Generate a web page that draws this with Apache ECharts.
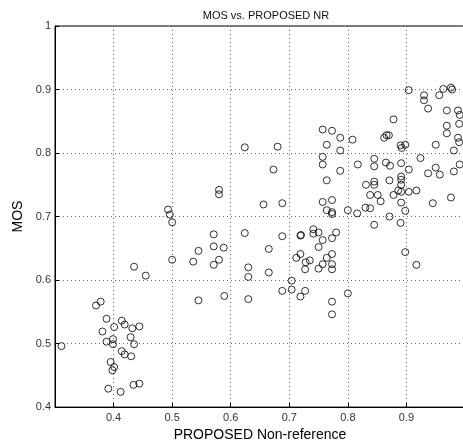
<!DOCTYPE html>
<html>
<head>
<meta charset="utf-8">
<script src="https://cdn.jsdelivr.net/npm/echarts@6/dist/echarts.min.js"></script>
<style>
  html, body { margin: 0; padding: 0; background: #fff; overflow: hidden; }
  /* the original figure is cut off at the right edge, just past x = 0.99 */
  #chart { width: 468px; height: 447px; }
</style>
</head>
<body>
<div id="chart"></div>
<script>
// PROPOSED Non-reference score (x) vs MOS (y), one entry per image
const proposedNR = [
  0.435, 0.455, 0.545, 0.378, 0.370, 0.388, 0.414, 0.419, 0.401, 0.432,
  0.444, 0.381, 0.429, 0.399, 0.388, 0.399, 0.435, 0.311, 0.414, 0.419,
  0.430, 0.395, 0.401, 0.398, 0.391, 0.412, 0.434, 0.444,
  0.624, 0.580, 0.580, 0.493, 0.496, 0.500, 0.571, 0.624, 0.571, 0.588,
  0.545, 0.500, 0.536, 0.580, 0.571, 0.630, 0.630, 0.589, 0.630, 0.680,
  0.673, 0.656, 0.688, 0.688, 0.665, 0.665, 0.704, 0.704, 0.688,
  0.719, 0.720, 0.741, 0.741, 0.750, 0.757, 0.780, 0.773, 0.750, 0.773,
  0.764, 0.719, 0.712, 0.735, 0.728, 0.727, 0.750, 0.757, 0.773, 0.773,
  0.719, 0.727, 0.773, 0.773, 0.800,
  0.757, 0.773, 0.787, 0.764, 0.787, 0.757, 0.757, 0.787, 0.764, 0.757,
  0.773, 0.764, 0.773, 0.773, 0.800,
  0.904, 0.930, 0.930, 0.937, 0.956, 0.963, 0.976, 0.978, 0.969, 0.988,
  0.991, 0.990, 0.969, 0.969, 0.988, 0.990, 0.981, 0.950, 0.924, 0.991,
  0.950, 0.957, 0.937, 0.981, 0.904, 0.878, 0.862, 0.866, 0.870, 0.890,
  0.898, 0.892, 0.808, 0.845, 0.817, 0.845, 0.865, 0.872, 0.891, 0.891,
  0.891, 0.871, 0.831, 0.845, 0.845, 0.891, 0.904, 0.917, 0.891, 0.886,
  0.878, 0.838, 0.851, 0.856, 0.891, 0.945, 0.976, 0.816, 0.830, 0.838,
  0.898, 0.871, 0.845, 0.890, 0.898, 0.917
];
const mos = [
  0.621, 0.607, 0.568, 0.566, 0.560, 0.539, 0.536, 0.530, 0.526, 0.524,
  0.527, 0.519, 0.510, 0.507, 0.503, 0.499, 0.499, 0.496, 0.488, 0.483,
  0.480, 0.471, 0.463, 0.458, 0.429, 0.424, 0.435, 0.437,
  0.809, 0.742, 0.735, 0.711, 0.703, 0.691, 0.672, 0.674, 0.653, 0.651,
  0.646, 0.632, 0.629, 0.632, 0.624, 0.620, 0.605, 0.575, 0.570, 0.810,
  0.774, 0.719, 0.721, 0.669, 0.649, 0.612, 0.599, 0.585, 0.583,
  0.670, 0.671, 0.680, 0.673, 0.675, 0.663, 0.675, 0.666, 0.652, 0.641,
  0.635, 0.641, 0.635, 0.631, 0.628, 0.617, 0.618, 0.625, 0.625, 0.617,
  0.574, 0.583, 0.566, 0.546, 0.579,
  0.837, 0.835, 0.824, 0.813, 0.804, 0.794, 0.782, 0.772, 0.757, 0.723,
  0.726, 0.710, 0.704, 0.707, 0.710,
  0.899, 0.891, 0.883, 0.870, 0.891, 0.901, 0.903, 0.900, 0.867, 0.867,
  0.860, 0.846, 0.843, 0.831, 0.824, 0.817, 0.804, 0.813, 0.792, 0.782,
  0.777, 0.766, 0.768, 0.771, 0.774, 0.853, 0.824, 0.828, 0.828, 0.812,
  0.813, 0.808, 0.821, 0.791, 0.782, 0.779, 0.785, 0.780, 0.784, 0.763,
  0.758, 0.757, 0.750, 0.755, 0.750, 0.750, 0.739, 0.741, 0.739, 0.741,
  0.734, 0.734, 0.734, 0.724, 0.722, 0.721, 0.730, 0.705, 0.714, 0.713,
  0.709, 0.700, 0.687, 0.690, 0.644, 0.624
];
const xTicks = [0.4, 0.5, 0.6, 0.7, 0.8, 0.9];

const points = proposedNR.map((x, i) => [x, mos[i]]);
const font = 'Liberation Sans, Arial, Helvetica, sans-serif';

const chart = echarts.init(document.getElementById('chart'));
chart.setOption({
  animation: false,
  backgroundColor: '#fff',
  title: {
    text: 'MOS vs. PROPOSED NR',
    left: 261,
    textAlign: 'center',
    top: 5,
    textStyle: { fontSize: 11, fontWeight: 'normal', color: '#111', fontFamily: font }
  },
  grid: {
    left: 55, right: 1, top: 26, bottom: 33,
    show: true, borderColor: '#000', borderWidth: 1
  },
  xAxis: {
    type: 'value',
    min: 0.3, max: 1, interval: 0.1,
    name: 'PROPOSED Non-reference',
    nameLocation: 'middle',
    nameGap: 17,
    nameTextStyle: { fontSize: 14, color: '#000', fontFamily: font },
    axisLine: { show: true, onZero: false, lineStyle: { color: '#000', width: 1 } },
    axisTick: { show: true, inside: true, length: 4, lineStyle: { color: '#000' } },
    axisLabel: {
      margin: 5, fontSize: 11, color: '#333', fontFamily: font,
      formatter: v => {
        const r = Math.round(v * 10) / 10;
        return xTicks.includes(r) ? String(r) : '';
      }
    },
    splitLine: { show: true, lineStyle: { type: [1, 3], color: '#666', width: 1 } }
  },
  yAxis: {
    type: 'value',
    min: 0.4, max: 1, interval: 0.1,
    name: 'MOS',
    nameLocation: 'middle',
    nameGap: 21,
    nameTextStyle: { fontSize: 14, color: '#000', fontFamily: font },
    axisLine: { show: true, lineStyle: { color: '#000', width: 1 } },
    axisTick: { show: true, inside: true, length: 4, lineStyle: { color: '#000' } },
    axisLabel: {
      margin: 4, fontSize: 11, color: '#333', fontFamily: font,
      formatter: v => String(Math.round(v * 10) / 10)
    },
    splitLine: { show: true, lineStyle: { type: [1, 3], color: '#666', width: 1 } }
  },
  series: [{
    type: 'scatter',
    data: points,
    symbol: 'circle',
    symbolSize: 7,
    itemStyle: { color: 'rgba(0,0,0,0)', borderColor: '#000', borderWidth: 1 }
  }]
});
</script>
</body>
</html>
